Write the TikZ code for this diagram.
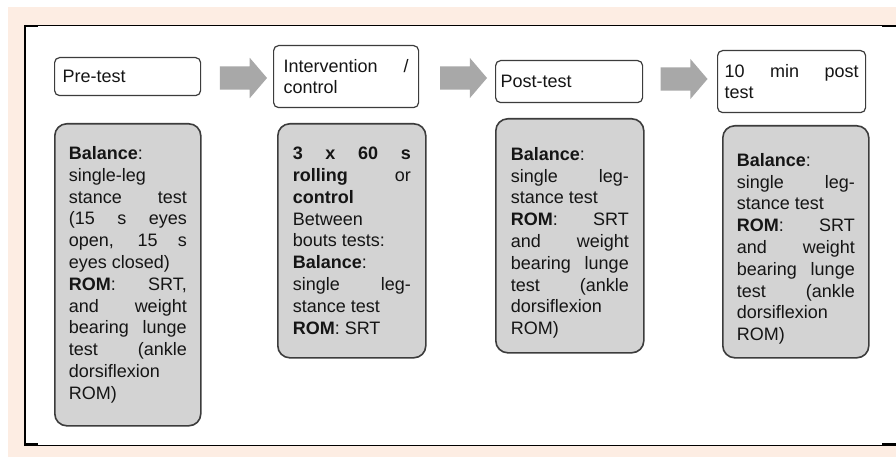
\documentclass[tikz,border=0pt]{standalone}
\usepackage{xcolor}
\usepackage{fontspec}
\setmainfont{Liberation Sans}
\usepackage{tikz}
\usetikzlibrary{shapes.arrows}

\definecolor{peach}{HTML}{FDEDE3}
\definecolor{boxgray}{HTML}{D3D3D3}
\definecolor{edgegray}{HTML}{3C3C3C}
\definecolor{arrowgray}{HTML}{A8A8A8}
\definecolor{inkgray}{HTML}{151515}

\tolerance=10000
\hbadness=10000

\tikzset{
    stage/.style={draw=edgegray, line width=1.2pt, fill=white, rounded corners=5pt, anchor=north west,
        align=justify, text=inkgray, font=\fontsize{18}{21.8}\selectfont},
    tests/.style={draw=edgegray, line width=1.6pt, fill=boxgray, rounded corners=12pt, anchor=north west,
        align=justify, text width=118pt, inner xsep=14pt, text=inkgray, font=\fontsize{18}{21.8}\selectfont},
    flow/.style={single arrow, fill=arrowgray, inner xsep=0pt, inner ysep=11.5pt, minimum height=47pt,
        single arrow head extend=8.5pt, single arrow tip angle=99}
}

\begin{document}
\begin{tikzpicture}[x=1pt, y=-1pt]
    \useasboundingbox (0, 0) rectangle (896, 457);
    \fill[peach] (8, 7) rectangle (896, 457);
    \fill[white] (24, 25) rectangle (896, 445);
    \draw[line width=0.8pt] (24, 25) -- (896, 25);
    \draw[line width=0.8pt] (24, 445) -- (896, 445);
    \draw[line width=2pt] (25, 25) -- (25, 445);
    \draw[line width=2.5pt] (24, 26) -- (38, 26) (882, 26) -- (896, 26);
    \draw[line width=2.5pt] (24, 444) -- (38, 444) (882, 444) -- (896, 444);

    \node[stage, text width=130pt, inner xsep=8pt, minimum height=38pt] at (54, 57) (pre) {Pre-test};
    \node[stage, text width=125pt, inner xsep=10pt, minimum height=62pt] at (273, 45) (interv) {Intervention /\linebreak control};
    \node[stage, text width=137pt, inner xsep=5pt, minimum height=42pt] at (495, 60) (post) {Post-test};
    \node[stage, text width=134pt, inner xsep=7pt, minimum height=62pt] at (717, 50) (follow) {10 min post\linebreak test};

    \node[flow] at (238.5, 78) (arr1) {};
    \node[flow] at (458.5, 78) (arr2) {};
    \node[flow] at (679, 79) (arr3) {};

    \node[tests, minimum height=302pt] at (54, 123) (pretests) {\textbf{Balance}:\\ single-leg\\ stance test\linebreak (15 s eyes\linebreak open, 15 s\linebreak eyes closed)\\ \textbf{ROM}: SRT,\linebreak and weight\linebreak bearing lunge\linebreak test (ankle\linebreak dorsiflexion\\ ROM)};
    \node[tests, inner xsep=15pt, minimum height=234pt] at (277, 123) (intervtasks) {\textbf{3 x 60 s}\linebreak \textbf{rolling} or\linebreak \textbf{control}\\ Between\\ bouts tests:\\ \textbf{Balance}:\\ single leg-\linebreak stance test\\ \textbf{ROM}: SRT};
    \node[tests, inner xsep=15pt, minimum height=234pt] at (495, 118) (posttests) {\rule{0pt}{27pt}\textbf{Balance}:\\ single leg-\linebreak stance test\\ \textbf{ROM}: SRT\linebreak and weight\linebreak bearing lunge\linebreak test (ankle\linebreak dorsiflexion\\ ROM)};
    \node[tests, minimum height=232pt] at (722, 125) (followtests) {\rule{0pt}{27pt}\textbf{Balance}:\\ single leg-\linebreak stance test\\ \textbf{ROM}: SRT\linebreak and weight\linebreak bearing lunge\linebreak test (ankle\linebreak dorsiflexion\\ ROM)};
\end{tikzpicture}
\end{document}
